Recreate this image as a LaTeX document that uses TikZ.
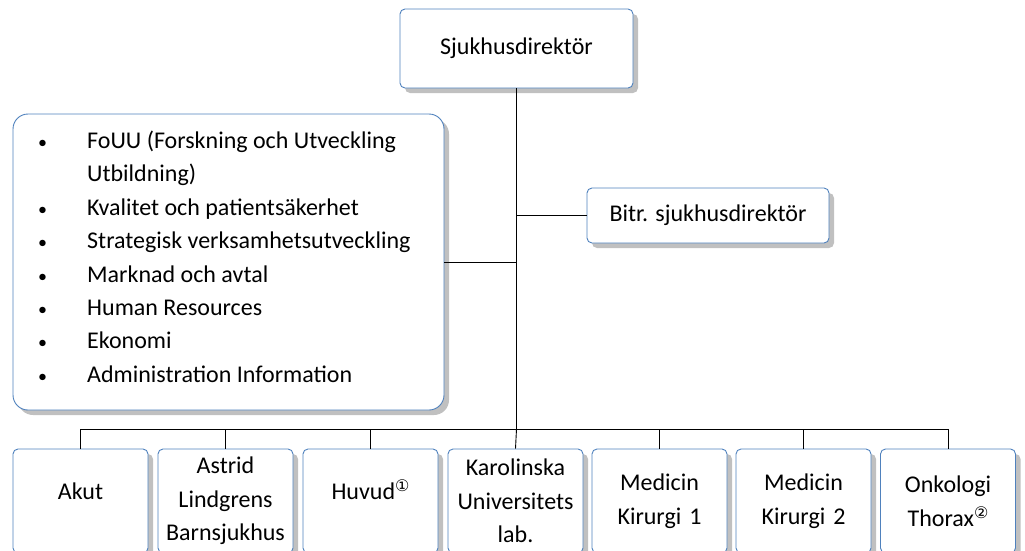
\documentclass[tikz,border=0pt]{standalone}
\usepackage{fontspec}
\setmainfont{Carlito}
\newfontfamily\circfont{DejaVu Sans}
\usetikzlibrary{shadows}
\definecolor{boxblue}{RGB}{79,129,189}
\definecolor{shadowgray}{RGB}{192,192,192}
\newcommand{\circnum}[1]{\raisebox{8pt}{\circfont\fontsize{16}{16}\selectfont #1}}
\newcommand{\smallbullet}{{\fontsize{18}{18}\selectfont\textbullet}}
\tikzset{
  orgbox/.style={draw=boxblue, fill=white, line width=0.9pt, rounded corners=5pt,
    drop shadow={shadow xshift=5pt, shadow yshift=-5pt, fill=shadowgray, opacity=1},
    align=center, inner sep=2pt, font=\fontsize{24}{33.5}\selectfont},
  unitbox/.style={orgbox, minimum width=135pt, minimum height=104pt, text width=131pt},
  oneline/.style={text height=16pt, text depth=20pt},
  orgline/.style={draw=black, line width=0.9pt},
}
\begin{document}
\begin{tikzpicture}[x=1pt,y=-1pt]
\useasboundingbox (0,0) rectangle (1025,550);
\clip (0,0) rectangle (1025,550);
% top
\node[orgbox, minimum width=233pt, minimum height=79pt] (boss) at (516.5,48.5) {Sjukhusdirektör};
\node[orgbox, minimum width=242pt, minimum height=55pt] (bitr) at (708,215.5) {Bitr. sjukhusdirektör};
\node[orgbox, rounded corners=15pt, minimum width=431pt, minimum height=296pt] (staff) at (228.5,262) {};
\node[anchor=north west, inner sep=0pt, font=\fontsize{24}{33.4}\selectfont] (stafftext) at (38,125) {%
\begin{tabular}{@{}p{49pt}@{}l@{}}
\smallbullet & FoUU (Forskning och Utveckling\\
 & Utbildning)\\
\smallbullet & Kvalitet och patientsäkerhet\\
\smallbullet & Strategisk verksamhetsutveckling\\
\smallbullet & Marknad och avtal\\
\smallbullet & Human Resources\\
\smallbullet & Ekonomi\\
\smallbullet & Administration Information
\end{tabular}};
% units
\node[unitbox, oneline] (akut) at (80.5,501) {Akut};
\node[unitbox] (astrid) at (225.5,501) {Astrid\\Lindgrens\\Barnsjukhus};
\node[unitbox, oneline] (huvud) at (370.5,501) {Huvud\circnum{①}};
\node[unitbox] (karo) at (515.5,501) {Karolinska\\Universitets\\lab.};
\node[unitbox] (medi1) at (659.5,501) {Medicin\\Kirurgi 1};
\node[unitbox] (medi2) at (803.5,501) {Medicin\\Kirurgi 2};
\node[unitbox] (onko) at (948,501) {Onkologi\\Thorax\circnum{②}};
% lines
\coordinate (bus) at (516.5,429);
\draw[orgline] (boss.south) -- (bus);
\draw[orgline] (staff.east) -- (staff.east -| bus);
\draw[orgline] (bitr.west) -- (bitr.west -| bus);
\draw[orgline] (akut.north) |- (bus) -| (onko.north);
\draw[orgline] (bus) -- (karo.north);
\draw[orgline] (astrid.north) -- (astrid.north |- bus);
\draw[orgline] (huvud.north) -- (huvud.north |- bus);
\draw[orgline] (medi1.north) -- (medi1.north |- bus);
\draw[orgline] (medi2.north) -- (medi2.north |- bus);
\end{tikzpicture}
\end{document}
